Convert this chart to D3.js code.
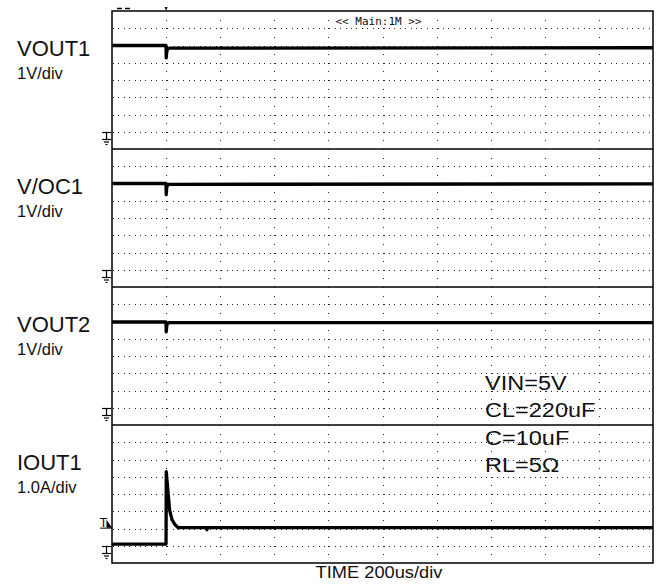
<!DOCTYPE html>
<html>
<head>
<meta charset="utf-8">
<script src="https://cdn.jsdelivr.net/npm/d3@7"></script>
<style>
  body { margin: 0; background: #fff; }
  text { font-family: "Liberation Sans", Arial, sans-serif; fill: #111; }
</style>
</head>
<body>
<svg width="661" height="587"></svg>
<script>
// channel names and vertical scale labels
var channels = ["VOUT1", "V/OC1", "VOUT2", "IOUT1"];
var scaleLabels = ["1V/div", "1V/div", "1V/div", "1.0A/div"];
var notes = ["VIN=5V", "CL=220uF", "C=10uF", "RL=5\u03A9"];

// time in us, value in V or A
var vout1 = [[0, 5.0], [199.5, 5.0], [200.5, 4.28], [202, 4.6], [205, 4.78], [212, 4.85], [2000, 4.87]];
var voc1 = [[0, 5.0], [199.5, 5.0], [200.5, 4.35], [202.5, 4.8], [208, 4.95], [2000, 4.98]];
var vout2 = [[0, 4.97], [199.5, 4.97], [200.5, 4.4], [203, 4.82], [210, 4.93], [2000, 4.93]];
var iout1 = [[0, 0.1], [199.8, 0.1], [200.6, 4.3], [205.5, 3.4], [213, 2.07], [222, 1.5], [234, 1.2],
             [245, 1.05], [348, 1.05], [351, 0.93], [354, 1.05], [2000, 1.05]];
var series = [vout1, voc1, vout2, iout1];

var timeTicks = [0, 200, 400, 600, 800, 1000, 1200, 1400, 1600, 1800, 2000];
var levelTicks = [-1, 0, 1, 2, 3, 4, 5, 6, 7];

var svg = d3.select("svg");
var plotL = 112, plotR = 653, plotT = 11, plotB = 563;
var panelH = (plotB - plotT) / 4;

var x = d3.scaleLinear().domain([0, 2000]).range([plotL, plotR]);

var panelScale = function (p) {
    return d3.scaleLinear().domain([-1, 7]).range([plotT + panelH * (p + 1), plotT + panelH * p]);
};

// dotted grid, horizontal lines
channels.forEach(function (c, p) {
    var y = panelScale(p);
    svg.append("g").selectAll("line")
        .data(levelTicks.slice(1, -1))
        .enter().append("line")
        .attr("x1", plotL + 1).attr("x2", plotR)
        .attr("y1", function (d) { return Math.round(y(d)) + 0.5; })
        .attr("y2", function (d) { return Math.round(y(d)) + 0.5; })
        .attr("stroke", "#222")
        .attr("stroke-width", 1)
        .attr("shape-rendering", "crispEdges")
        .attr("stroke-dasharray", "1," + (x(20) - x(0) - 1));
});

// vertical dotted lines
svg.append("g").selectAll("line")
    .data(timeTicks.slice(1, -1))
    .enter().append("line")
    .attr("x1", function (d) { return Math.round(x(d)) + 0.5; })
    .attr("x2", function (d) { return Math.round(x(d)) + 0.5; })
    .attr("y1", plotT + panelH / 16)
    .attr("y2", plotB)
    .attr("stroke", "#222")
    .attr("stroke-width", 1)
    .attr("shape-rendering", "crispEdges")
    .attr("stroke-dasharray", "1," + (panelH / 16 - 1));

// header label
svg.append("rect")
    .attr("x", 334).attr("y", 13).attr("width", 90).attr("height", 13)
    .attr("fill", "#fff");
svg.append("text")
    .attr("x", 378.5).attr("y", 25)
    .attr("text-anchor", "middle")
    .style("font-family", "'DejaVu Sans Mono', monospace")
    .style("font-size", "11px")
    .text("<< Main:1M >>");

// traces
var line = function (p) {
    var y = panelScale(p);
    return d3.line().x(function (d) { return x(d[0]); }).y(function (d) { return y(d[1]); });
};
series.forEach(function (s, p) {
    svg.append("path")
        .attr("d", line(p)(s))
        .attr("fill", "none")
        .attr("stroke", "#000")
        .attr("stroke-width", 3.3)
        .attr("stroke-linejoin", "round");
});

// frame and panel dividers
svg.append("rect")
    .attr("x", plotL).attr("y", plotT)
    .attr("width", plotR - plotL).attr("height", plotB - plotT)
    .attr("fill", "none").attr("stroke", "#000").attr("stroke-width", 1.5);
svg.append("g").selectAll("line")
    .data([1, 2, 3])
    .enter().append("line")
    .attr("x1", plotL).attr("x2", plotR)
    .attr("y1", function (d) { return plotT + panelH * d; })
    .attr("y2", function (d) { return plotT + panelH * d; })
    .attr("stroke", "#000").attr("stroke-width", 1.5);

// ground markers at 0 of every panel
channels.forEach(function (c, p) {
    var gy = Math.round(panelScale(p)(0)) + 0.5;
    var g = svg.append("g").attr("stroke", "#000").attr("stroke-width", 1.2);
    g.append("line").attr("x1", 102).attr("x2", 111).attr("y1", gy).attr("y2", gy);
    g.append("line").attr("x1", 106.5).attr("x2", 106.5).attr("y1", gy).attr("y2", gy + 7);
    g.append("line").attr("x1", 102).attr("x2", 111).attr("y1", gy + 7).attr("y2", gy + 7);
    g.append("line").attr("x1", 104).attr("x2", 109).attr("y1", gy + 9.5).attr("y2", gy + 9.5);
    g.append("line").attr("x1", 105.5).attr("x2", 107.5).attr("y1", gy + 12).attr("y2", gy + 12);
});

// trigger level marker on IOUT1
var ty = panelScale(3)(1.05);
svg.append("text")
    .attr("x", 99.5).attr("y", ty - 0.5)
    .style("font-size", "13px")
    .text("T");
svg.append("path")
    .attr("d", "M106.5," + (ty - 8) + " L112," + ty + " L106.5," + ty + " Z")
    .attr("fill", "#000");
svg.append("line")
    .attr("x1", 100).attr("x2", 112).attr("y1", ty + 0.5).attr("y2", ty + 0.5)
    .attr("stroke", "#000").attr("stroke-width", 1);

// marks above the frame
svg.append("line").attr("x1", 117).attr("x2", 122).attr("y1", 8.5).attr("y2", 8.5)
    .attr("stroke", "#000").attr("stroke-width", 1.5);
svg.append("line").attr("x1", 125).attr("x2", 130).attr("y1", 8.5).attr("y2", 8.5)
    .attr("stroke", "#000").attr("stroke-width", 1.5);
svg.append("path")
    .attr("d", "M" + (x(200) - 1.5) + ",7 L" + (x(200) + 1.5) + ",7 L" + x(200) + ",11 Z")
    .attr("fill", "#000");

// channel labels
channels.forEach(function (c, p) {
    svg.append("text")
        .attr("x", 17).attr("y", 55.7 + panelH * p)
        .style("font-size", "22px")
        .text(c);
    svg.append("text")
        .attr("x", 17).attr("y", 78.5 + panelH * p)
        .style("font-size", "16.5px")
        .text(scaleLabels[p]);
});

// test conditions
notes.forEach(function (n, i) {
    svg.append("text")
        .attr("transform", "translate(485," + (390 + i * 27.4) + ") scale(1.12,1)")
        .style("font-size", "21px")
        .text(n);
});

// time base
svg.append("text")
    .attr("transform", "translate(379,578.3) scale(1.12,1)")
    .attr("text-anchor", "middle")
    .style("font-size", "16.3px")
    .text("TIME 200us/div");
</script>
</body>
</html>
